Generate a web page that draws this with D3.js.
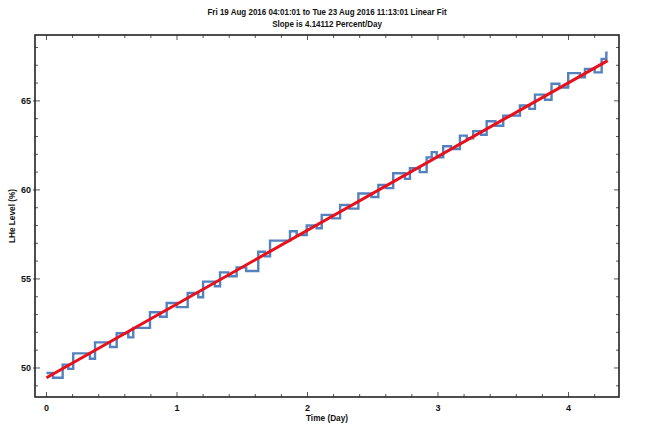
<!DOCTYPE html>
<html>
<head>
<meta charset="utf-8">
<script src="https://cdn.jsdelivr.net/npm/d3@7"></script>
<style>
  body { margin: 0; background: #fff; }
  text { font-family: "Liberation Sans Narrow", "Arial Narrow", "Liberation Sans", sans-serif; }
</style>
</head>
<body>
<script>
        // level readings (step after), time in days since start
        var stepTimes = [0.000, 0.050, 0.124, 0.167, 0.205, 0.333, 0.372, 0.487, 0.538, 0.627,
                         0.665, 0.793, 0.870, 0.921, 0.998, 1.040, 1.082, 1.163, 1.200, 1.290,
                         1.330, 1.393, 1.457, 1.530, 1.623, 1.674, 1.713, 1.866, 1.917, 1.994,
                         2.070, 2.109, 2.190, 2.250, 2.320, 2.390, 2.490, 2.543, 2.600, 2.657,
                         2.747, 2.785, 2.860, 2.913, 2.952, 2.990, 3.040, 3.100, 3.168, 3.220,
                         3.270, 3.330, 3.373, 3.440, 3.500, 3.628, 3.700, 3.743, 3.820, 3.870,
                         3.930, 3.998, 4.088, 4.126, 4.200, 4.254, 4.290, 4.300];
        var stepLevels = [49.72, 49.45, 50.19, 49.95, 50.82, 50.52, 51.44, 51.18, 51.95, 51.72,
                          52.25, 53.13, 52.88, 53.65, 53.42, 53.42, 54.21, 53.97, 54.85, 54.59,
                          55.37, 55.15, 55.65, 55.45, 56.53, 56.27, 57.15, 57.68, 57.47, 58.00,
                          57.85, 58.60, 58.40, 59.15, 58.95, 59.80, 59.60, 60.28, 60.10, 60.94,
                          60.62, 61.22, 61.00, 61.83, 62.12, 61.83, 62.45, 62.30, 63.05, 62.90,
                          63.30, 63.10, 63.86, 63.60, 64.17, 64.74, 64.55, 65.35, 65.06, 65.96,
                          65.75, 66.56, 66.33, 66.80, 66.60, 67.36, 67.70, 67.70];

        // linear fit end points
        var fitTimes = [0, 4.3];
        var fitLevels = [49.45, 67.26];

        var xTicks = [0, 1, 2, 3, 4];
        var yTicks = [50, 55, 60, 65];
        var titleLines = ["Fri 19 Aug 2016 04:01:01 to Tue 23 Aug 2016 11:13:01 Linear Fit",
                          "Slope is 4.14112 Percent/Day"];

        var width = 654, height = 428;
        var margin = {top: 35, right: 35, bottom: 31, left: 35};

        var svg = d3.select("body").append("svg")
            .attr("width", width)
            .attr("height", height);

        var x = d3.scaleLinear()
            .domain([-0.088, 4.387])
            .range([margin.left, width - margin.right]);
        var y = d3.scaleLinear()
            .domain([48.37, 68.7])
            .range([height - margin.bottom, margin.top]);

        var x0 = margin.left, x1 = width - margin.right;
        var y0 = height - margin.bottom, y1 = margin.top;

        var minorX = d3.range(0, 4.4, 0.2);
        var minorY = d3.range(49, 69, 1);

        var ticks = svg.append("g")
            .attr("stroke", "#555")
            .attr("stroke-width", 1);

        // bottom / top ticks point inward
        minorX.forEach(function(t) {
            var major = Math.abs(t - Math.round(t)) < 1e-6;
            var len = major ? 5 : 3;
            ticks.append("line").attr("x1", x(t)).attr("x2", x(t))
                .attr("y1", y0).attr("y2", y0 - len);
            ticks.append("line").attr("x1", x(t)).attr("x2", x(t))
                .attr("y1", y1).attr("y2", y1 + len);
        });
        minorY.forEach(function(v) {
            var major = v % 5 === 0;
            var len = major ? 5 : 3;
            ticks.append("line").attr("y1", y(v)).attr("y2", y(v))
                .attr("x1", x0 - (major ? 2 : 0)).attr("x2", x0 + len);
            ticks.append("line").attr("y1", y(v)).attr("y2", y(v))
                .attr("x1", x1).attr("x2", x1 - len);
        });

        // frame
        svg.append("rect")
            .attr("x", x0).attr("y", y1)
            .attr("width", x1 - x0).attr("height", y0 - y1)
            .attr("fill", "none")
            .attr("stroke", "#222")
            .attr("stroke-width", 1.6);

        svg.selectAll(".xlab")
            .data(xTicks)
            .enter().append("text")
            .attr("class", "xlab")
            .attr("x", function(d) { return x(d); })
            .attr("y", y0 + 14)
            .attr("text-anchor", "middle")
            .attr("font-size", 9)
            .attr("font-weight", "bold")
            .attr("fill", "#111")
            .text(function(d) { return d; });

        svg.selectAll(".ylab")
            .data(yTicks)
            .enter().append("text")
            .attr("class", "ylab")
            .attr("x", x0 - 4)
            .attr("y", function(d) { return y(d) + 3; })
            .attr("text-anchor", "end")
            .attr("font-size", 9)
            .attr("font-weight", "bold")
            .attr("fill", "#111")
            .text(function(d) { return d; });

        var line = d3.line()
            .x(function(d) { return x(d[0]); })
            .y(function(d) { return y(d[1]); });

        var steps = d3.zip(stepTimes, stepLevels);
        svg.append("path")
            .datum(steps)
            .attr("fill", "none")
            .attr("stroke", "#5382be")
            .attr("stroke-width", 2.4)
            .attr("d", line.curve(d3.curveStepAfter));

        svg.append("path")
            .datum(d3.zip(fitTimes, fitLevels))
            .attr("fill", "none")
            .attr("stroke", "#e8101a")
            .attr("stroke-width", 3)
            .attr("d", d3.line()
                .x(function(d) { return x(d[0]); })
                .y(function(d) { return y(d[1]); }));

        // title is set in a narrow face in the original, squeeze it horizontally
        var cx = (x0 + x1) / 2;
        svg.selectAll(".title")
            .data(titleLines)
            .enter().append("text")
            .attr("class", "title")
            .attr("transform", function(d, i) {
                return "translate(" + cx + "," + (15 + i * 12) + ") scale(0.89,1)";
            })
            .attr("text-anchor", "middle")
            .attr("font-size", 9)
            .attr("font-weight", "bold")
            .attr("fill", "#111")
            .text(function(d) { return d; });

        svg.append("text")
            .attr("transform", "translate(" + cx + "," + (y0 + 24) + ") scale(0.92,1)")
            .attr("text-anchor", "middle")
            .attr("font-size", 9)
            .attr("font-weight", "bold")
            .attr("fill", "#111")
            .text("Time (Day)");

        svg.append("text")
            .attr("transform", "translate(15," + ((y0 + y1) / 2) + ") rotate(-90) scale(0.92,1)")
            .attr("text-anchor", "middle")
            .attr("font-size", 9)
            .attr("font-weight", "bold")
            .attr("fill", "#111")
            .text("LHe Level (%)");
</script>
</body>
</html>
